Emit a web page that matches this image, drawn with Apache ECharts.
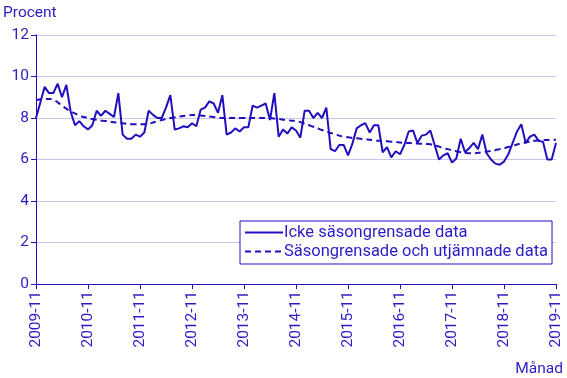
<!DOCTYPE html>
<html><head><meta charset="utf-8">
<script src="https://cdn.jsdelivr.net/npm/echarts@6/dist/echarts.min.js"></script>
<style>html,body{margin:0;padding:0;background:#fff}#c{width:567px;height:378px}</style>
</head><body><div id="c"></div>
<script>
const startYear = 2009, startMonth = 11, monthCount = 121;
const categories = [];
for (let k = 0; k < monthCount; k++) {
  const m = (startMonth - 1 + k) % 12 + 1;
  const y = startYear + Math.floor((startMonth - 1 + k) / 12);
  categories.push(y + '-' + (m < 10 ? '0' + m : m));
}
const seriesNames = ['Icke säsongrensade data', 'Säsongrensade och utjämnade data'];
const rawValues = [
 8.0, 8.75, 9.5, 9.2, 9.2, 9.65, 9.0, 9.6, 8.3, 7.65, 7.85, 7.6,
 7.45, 7.65, 8.35, 8.1, 8.35, 8.2, 8.05, 9.2, 7.2, 7.0, 7.0, 7.2,
 7.1, 7.3, 8.35, 8.15, 8.0, 8.0, 8.5, 9.1, 7.45, 7.5, 7.6, 7.55,
 7.75, 7.6, 8.4, 8.5, 8.8, 8.7, 8.25, 9.1, 7.2, 7.3, 7.5, 7.35,
 7.55, 7.55, 8.6, 8.5, 8.6, 8.7, 7.9, 9.2, 7.1, 7.45, 7.25, 7.55,
 7.4, 7.05, 8.35, 8.35, 8.0, 8.25, 8.0, 8.5, 6.5, 6.4, 6.7, 6.7,
 6.2, 6.75, 7.5, 7.65, 7.75, 7.3, 7.65, 7.65, 6.35, 6.6, 6.1, 6.4,
 6.25, 6.7, 7.35, 7.4, 6.8, 7.15, 7.2, 7.4, 6.7, 6.0, 6.2, 6.3,
 5.85, 6.05, 7.0, 6.35, 6.55, 6.8, 6.5, 7.2, 6.3, 6.0, 5.8, 5.75,
 5.9, 6.25, 6.8, 7.35, 7.7, 6.8, 7.1, 7.2, 6.9, 6.85, 6.0, 6.0,
 6.8
];
const trendValues = [
 8.85, 8.9, 8.92, 8.92, 8.88, 8.75, 8.6, 8.45, 8.32, 8.22, 8.12, 8.05,
 8.0, 7.95, 7.92, 7.88, 7.85, 7.82, 7.8, 7.77, 7.75, 7.72, 7.7, 7.7,
 7.7, 7.7, 7.72, 7.78, 7.85, 7.9, 7.95, 8.0, 8.03, 8.07, 8.1, 8.12,
 8.14, 8.15, 8.12, 8.1, 8.07, 8.05, 8.02, 8.0, 8.0, 8.0, 8.0, 8.0,
 8.0, 8.0, 8.0, 8.0, 8.0, 8.0, 8.0, 7.97, 7.95, 7.92, 7.9, 7.87,
 7.85, 7.8, 7.72, 7.65, 7.58, 7.5, 7.42, 7.35, 7.28, 7.22, 7.15, 7.1,
 7.07, 7.04, 7.02, 7.0, 6.98, 6.95, 6.93, 6.9, 6.9, 6.88, 6.86, 6.84,
 6.82, 6.8, 6.8, 6.78, 6.77, 6.76, 6.75, 6.73, 6.68, 6.62, 6.55, 6.5,
 6.45, 6.4, 6.35, 6.32, 6.3, 6.3, 6.32, 6.35, 6.38, 6.41, 6.45, 6.5,
 6.55, 6.6, 6.66, 6.72, 6.78, 6.82, 6.86, 6.9, 6.92, 6.93, 6.94, 6.95,
 6.95
];
const yTicks = { min: 0, max: 12, interval: 2 };

const blue = '#1f0fbf';
const txt = '#2a1cc4';
const font = 'Roboto';
const chart = echarts.init(document.getElementById('c'), null, { renderer: 'canvas' });
chart.setOption({
  animation: false,
  backgroundColor: '#fff',
  textStyle: { fontFamily: font },
  grid: { left: 36, right: 11, top: 35, bottom: 94, containLabel: false },
  graphic: [
    { type: 'text', left: 3, top: 5, style: { text: 'Procent', font: '15.5px Roboto', fill: txt } },
    { type: 'text', right: 4, top: 361, style: { text: 'Månad', font: '15.5px Roboto', fill: txt } }
  ],
  legend: {
    orient: 'vertical', left: 240, top: 221,
    backgroundColor: '#fff', borderColor: blue, borderWidth: 1,
    padding: [3, 4, 4, 4], itemGap: 2, itemWidth: 38, itemHeight: 19,
    itemStyle: { opacity: 0 },
    textStyle: { fontFamily: font, fontSize: 16.5, color: txt, padding: [0, 0, 0, -4] },
    data: seriesNames
  },
  xAxis: {
    type: 'category', data: categories, boundaryGap: false,
    axisLine: { lineStyle: { color: blue, width: 1 } },
    axisTick: { interval: 11, length: 5, lineStyle: { color: blue } },
    axisLabel: { interval: 11, rotate: 90, color: txt, fontSize: 15.5, fontFamily: font, margin: 7 },
    splitLine: { show: false }
  },
  yAxis: {
    type: 'value', min: yTicks.min, max: yTicks.max, interval: yTicks.interval,
    axisLine: { show: true, lineStyle: { color: blue, width: 1 } },
    axisTick: { show: true, length: 5, lineStyle: { color: blue } },
    axisLabel: { color: txt, fontSize: 15.5, fontFamily: font, margin: 7 },
    splitLine: { lineStyle: { color: '#c9c5ec', width: 1 } }
  },
  series: [
    { name: seriesNames[0], type: 'line', data: rawValues, symbol: 'none',
      lineStyle: { color: blue, width: 2 }, itemStyle: { color: blue } },
    { name: seriesNames[1], type: 'line', data: trendValues, symbol: 'none', smooth: true,
      lineStyle: { color: blue, width: 2, type: [6, 4] }, itemStyle: { color: blue } }
  ]
});
</script></body></html>
